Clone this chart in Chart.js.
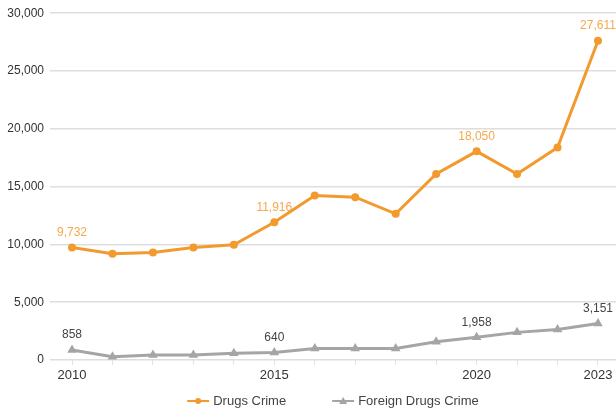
<!DOCTYPE html>
<html>
<head>
<meta charset="utf-8">
<script src="https://cdn.jsdelivr.net/npm/chart.js@4/dist/chart.umd.min.js"></script>
<style>
    html, body { margin: 0; padding: 0; background: #fff; }
    #wrap { width: 616px; height: 412px; }
</style>
</head>
<body>
<div id="wrap"><canvas id="chart"></canvas></div>
<script>
    // Data
    const years = [2010, 2011, 2012, 2013, 2014, 2015, 2016, 2017, 2018, 2019, 2020, 2021, 2022, 2023];
    const drugsCrime = [9732, 9200, 9290, 9740, 9970, 11916, 14220, 14080, 12650, 16090, 18050, 16090, 18390, 27611];
    const foreignDrugsCrime = [858, 290, 430, 430, 575, 640, 1000, 1000, 990, 1580, 1958, 2390, 2640, 3151];
    const shownYears = [2010, 2015, 2020, 2023];
    const yTicks = [0, 5000, 10000, 15000, 20000, 25000, 30000];

    const ORANGE = "#F29A2E";
    const GREY = "#A5A5A5";
    const FONT = "'Liberation Sans', Arial, sans-serif";

    const fmt = (v) => v.toLocaleString("en-US");

    // value labels above the points of the shown years
    const valueLabels = {
        id: "valueLabels",
        afterDatasetsDraw(chart) {
            const ctx = chart.ctx;
            ctx.save();
            ctx.font = "12px " + FONT;
            ctx.textAlign = "center";
            ctx.textBaseline = "middle";
            chart.data.datasets.forEach((ds, i) => {
                const meta = chart.getDatasetMeta(i);
                meta.data.forEach((pt, j) => {
                    if (!shownYears.includes(years[j])) return;
                    ctx.fillStyle = ds.labelColor;
                    ctx.fillText(fmt(ds.data[j].y), pt.x, pt.y - 15);
                });
            });
            ctx.restore();
        }
    };

    // legend drawn as line + marker, centred under the plot area
    const lineLegend = {
        id: "lineLegend",
        afterDraw(chart) {
            const ctx = chart.ctx;
            const area = chart.chartArea;
            ctx.save();
            ctx.font = "13px " + FONT;
            ctx.textBaseline = "middle";
            const items = chart.data.datasets.map(ds => ({
                ds, w: 22 + 4 + ctx.measureText(ds.label).width
            }));
            const gap = 46;
            const total = items.reduce((s, it) => s + it.w, 0) + gap * (items.length - 1);
            let x = (area.left + area.right) / 2 - total / 2;
            const y = 401;
            items.forEach(it => {
                ctx.strokeStyle = it.ds.borderColor;
                ctx.lineWidth = 2;
                ctx.beginPath();
                ctx.moveTo(x, y);
                ctx.lineTo(x + 22, y);
                ctx.stroke();
                ctx.fillStyle = it.ds.borderColor;
                ctx.beginPath();
                if (it.ds.pointStyle === "triangle") {
                    ctx.moveTo(x + 11, y - 4);
                    ctx.lineTo(x + 15, y + 3);
                    ctx.lineTo(x + 7, y + 3);
                    ctx.closePath();
                } else {
                    ctx.arc(x + 11, y, 3, 0, Math.PI * 2);
                }
                ctx.fill();
                ctx.fillStyle = "#444";
                ctx.fillText(it.ds.label, x + 26, y);
                x += it.w + gap;
            });
            ctx.restore();
        }
    };

    new Chart(document.getElementById("chart"), {
        type: "line",
        data: {
            datasets: [
                {
                    label: "Drugs Crime",
                    data: years.map((y, i) => ({ x: y, y: drugsCrime[i] })),
                    borderColor: ORANGE,
                    backgroundColor: ORANGE,
                    labelColor: "#F5A84C",
                    borderWidth: 3,
                    pointStyle: "circle",
                    pointRadius: 4,
                    pointBorderWidth: 0,
                    tension: 0
                },
                {
                    label: "Foreign Drugs Crime",
                    data: years.map((y, i) => ({ x: y, y: foreignDrugsCrime[i] })),
                    borderColor: GREY,
                    backgroundColor: GREY,
                    labelColor: "#444",
                    borderWidth: 3,
                    pointStyle: "triangle",
                    pointRadius: 5.5,
                    pointBorderWidth: 0,
                    tension: 0
                }
            ]
        },
        options: {
            responsive: true,
            maintainAspectRatio: false,
            animation: false,
            layout: { autoPadding: false, padding: { top: 12, right: 0, bottom: 28, left: 0 } },
            plugins: {
                legend: { display: false },
                tooltip: { enabled: false }
            },
            scales: {
                x: {
                    type: "linear",
                    min: 2009.456,
                    max: 2023.445,
                    afterBuildTicks: (scale) => {
                        scale.ticks = years.map(v => ({ value: v }));
                    },
                    afterFit: (scale) => {
                        scale.height = 24;
                        scale.paddingLeft = 0;
                        scale.paddingRight = 0;
                    },
                    grid: {
                        drawOnChartArea: false,
                        drawTicks: true,
                        tickLength: 5,
                        tickColor: "#e2e2e2"
                    },
                    border: { display: false },
                    ticks: {
                        padding: 3,
                        autoSkip: false,
                        maxRotation: 0,
                        color: "#333",
                        font: { family: FONT, size: 13 },
                        callback: (v) => shownYears.includes(v) ? String(v) : ""
                    }
                },
                y: {
                    min: 0,
                    max: 30000,
                    afterBuildTicks: (scale) => {
                        scale.ticks = yTicks.map(v => ({ value: v }));
                    },
                    afterFit: (scale) => { scale.width = 50; },
                    grid: {
                        color: "#dedede",
                        lineWidth: 1.5,
                        drawTicks: false
                    },
                    border: { display: false },
                    ticks: {
                        padding: 6,
                        color: "#333",
                        font: { family: FONT, size: 12 },
                        callback: (v) => fmt(v)
                    }
                }
            }
        },
        plugins: [valueLabels, lineLegend]
    });
</script>
</body>
</html>
